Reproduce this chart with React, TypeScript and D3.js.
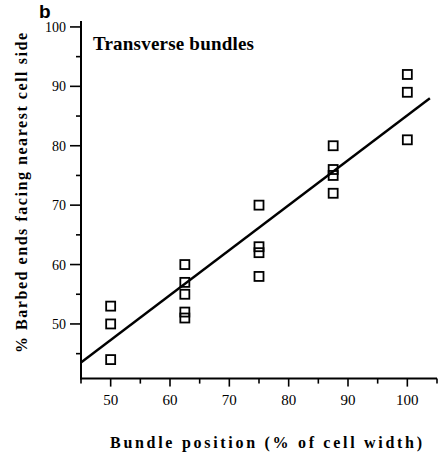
import React from "react";
import * as d3 from "d3";

const xValues = [50, 50, 50, 62.5, 62.5, 62.5, 62.5, 62.5, 75, 75, 75, 75, 87.5, 87.5, 87.5, 87.5, 100, 100, 100];
const yValues = [53, 50, 44, 60, 57, 55, 52, 51, 70, 63, 62, 58, 80, 76, 75, 72, 92, 89, 81];
const fitX = [45, 103.8];
const fitY = [43.5, 88.0];
const xMajorTicks = [50, 60, 70, 80, 90, 100];
const xMinorTicks = [45, 55, 65, 75, 85, 95, 105];
const yMajorTicks = [50, 60, 70, 80, 90, 100];
const yMinorTicks = [45, 55, 65, 75, 85, 95];

const serif = "'Liberation Serif', 'Times New Roman', serif";

export default function App() {
  const x = d3.scaleLinear().domain([45, 105]).range([81, 437]);
  const y = d3.scaleLinear().domain([40.8, 101]).range([378.6, 21]);
  const line = d3
    .line<[number, number]>()
    .x((d) => x(d[0]))
    .y((d) => y(d[1]));
  const fitPts: [number, number][] = fitX.map((v, i) => [v, fitY[i]]);
  const sq = 9;
  return (
    <svg width={441} height={454} style={{ position: "absolute", left: 0, top: 0, background: "#fff" }}>
      <text x={39} y={18} style={{ fontFamily: "'Liberation Sans', Arial, sans-serif", fontWeight: "bold", fontSize: 19 }}>b</text>
      <line x1={x(45)} x2={x(45)} y1={y(101)} y2={y(40.8) + 1} stroke="#000" strokeWidth={2} />
      <line x1={x(45) - 1} x2={x(105)} y1={y(40.8)} y2={y(40.8)} stroke="#000" strokeWidth={2} />
      {yMajorTicks.map((t) => (
        <g key={"ym" + t}>
          <line x1={x(45) - 11} x2={x(45)} y1={y(t)} y2={y(t)} stroke="#000" strokeWidth={1.6} />
          <text x={66} y={y(t) + 5} textAnchor="end" style={{ fontFamily: serif, fontSize: 14 }}>{t}</text>
        </g>
      ))}
      {yMinorTicks.map((t) => (
        <line key={"yn" + t} x1={x(45) - 5} x2={x(45)} y1={y(t)} y2={y(t)} stroke="#000" strokeWidth={1.6} />
      ))}
      {xMajorTicks.map((t) => (
        <g key={"xm" + t}>
          <line x1={x(t)} x2={x(t)} y1={y(40.8)} y2={y(40.8) + 8} stroke="#000" strokeWidth={1.6} />
          <text x={x(t)} y={405} textAnchor="middle" style={{ fontFamily: serif, fontSize: 15 }}>{t}</text>
        </g>
      ))}
      {xMinorTicks.map((t) => (
        <line key={"xn" + t} x1={x(t)} x2={x(t)} y1={y(40.8)} y2={y(40.8) + 5} stroke="#000" strokeWidth={1.6} />
      ))}
      <path d={line(fitPts) || ""} fill="none" stroke="#000" strokeWidth={2.4} />
      {xValues.map((v, i) => (
        <rect key={"p" + i} x={x(v) - sq / 2} y={y(yValues[i]) - sq / 2} width={sq} height={sq} fill="none" stroke="#000" strokeWidth={1.8} />
      ))}
      <text x={93} y={50} textLength={161} lengthAdjust="spacing" style={{ fontFamily: serif, fontWeight: "bold", fontSize: 19 }}>Transverse bundles</text>
      <text x={110} y={448} textLength={312} lengthAdjust="spacing" style={{ fontFamily: serif, fontWeight: "bold", fontSize: 16 }}>Bundle position (% of cell width)</text>
      <text transform="translate(27,353) rotate(-90)" x={0} y={0} textLength={320} lengthAdjust="spacing" style={{ fontFamily: serif, fontWeight: "bold", fontSize: 16 }}>% Barbed ends facing nearest cell side</text>
    </svg>
  );
}
